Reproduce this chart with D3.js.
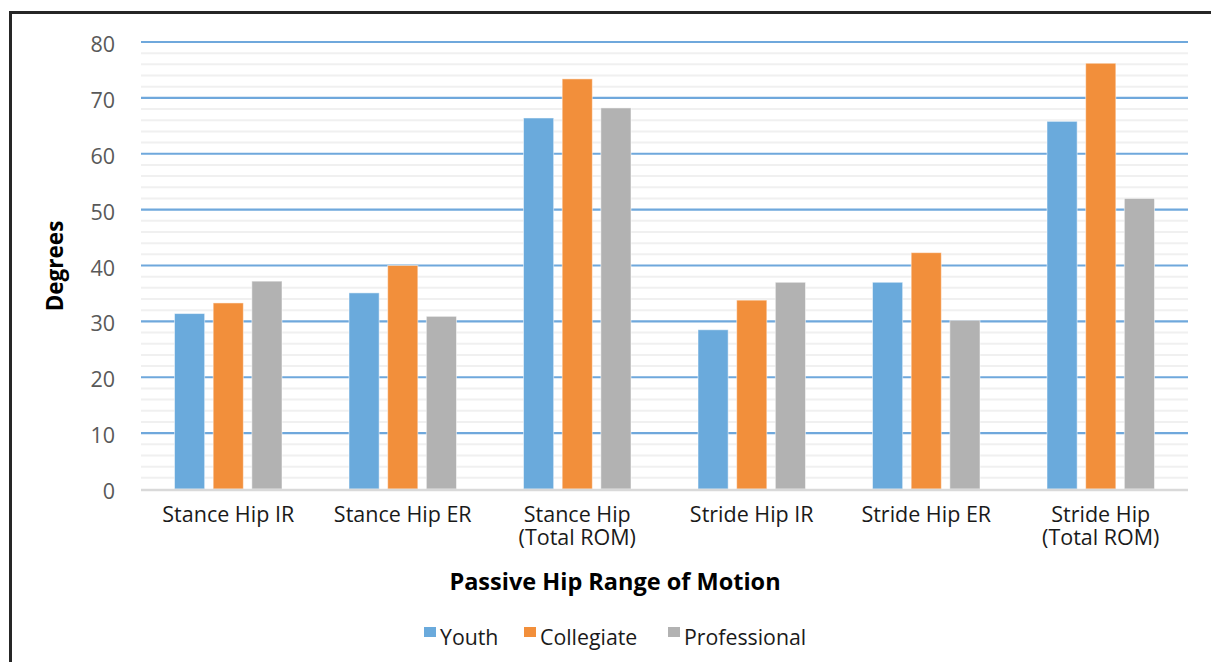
<!DOCTYPE html>
<html>
<head>
<meta charset="utf-8">
<script src="https://cdn.jsdelivr.net/npm/d3@7"></script>
<style>
  html, body { margin: 0; padding: 0; background: #fff; }
  svg { display: block; font-family: "Open Sans", sans-serif; }
</style>
</head>
<body>
<svg id="chart" width="1211" height="662"></svg>
<script>
// Passive hip range of motion (degrees) by playing level
const categories = [
  ["Stance Hip IR"],
  ["Stance Hip ER"],
  ["Stance Hip", "(Total ROM)"],
  ["Stride Hip IR"],
  ["Stride Hip ER"],
  ["Stride Hip", "(Total ROM)"]
];
const seriesNames = ["Youth", "Collegiate", "Professional"];
const youth        = [31.4, 35.1, 66.4, 28.5, 37.0, 65.8];
const collegiate   = [33.3, 40.0, 73.4, 33.8, 42.3, 76.2];
const professional = [37.2, 30.9, 68.2, 37.0, 30.2, 52.0];
const yTicks = [0, 10, 20, 30, 40, 50, 60, 70, 80];
const colors = ["#6aaadc", "#f28f3b", "#b2b2b2"];

const values = [youth, collegiate, professional];
const svg = d3.select("#chart");

// outer frame
svg.append("rect")
  .attr("x", 10.5).attr("y", 12.5)
  .attr("width", 1300).attr("height", 700)
  .attr("fill", "none").attr("stroke", "#262626").attr("stroke-width", 3);

const plot = { left: 141, right: 1188, top: 42, bottom: 489 };

const y = d3.scaleLinear().domain([0, 80]).range([plot.bottom, plot.top]);
const x0 = d3.scaleBand()
  .domain(d3.range(categories.length))
  .range([plot.left, plot.right]);
const pad = 33.5;
const x1 = d3.scaleBand()
  .domain(d3.range(seriesNames.length))
  .range([pad, x0.bandwidth() - pad])
  .paddingInner(0.22);

// minor gridlines every 2 degrees
const minor = d3.range(2, 80, 2).filter(v => v % 10 !== 0);
svg.append("g").selectAll("line").data(minor).join("line")
  .attr("x1", plot.left).attr("x2", plot.right)
  .attr("y1", d => y(d)).attr("y2", d => y(d))
  .attr("stroke", "#f0f0f0").attr("stroke-width", 2);

// major gridlines
svg.append("g").selectAll("line").data(yTicks.filter(v => v > 0)).join("line")
  .attr("x1", plot.left).attr("x2", plot.right)
  .attr("y1", d => y(d)).attr("y2", d => y(d))
  .attr("stroke", "#6fa8dc").attr("stroke-width", 2.2);

// y axis tick labels
const yAxis = d3.axisLeft(y).tickValues(yTicks).tickSize(0).tickPadding(0);
const yg = svg.append("g").attr("transform", `translate(${115},0)`).call(yAxis);
yg.select(".domain").remove();
yg.selectAll("text")
  .attr("dy", null).attr("y", 9.5)
  .attr("font-family", "Open Sans, sans-serif")
  .attr("font-size", 21.5).attr("fill", "#595959");

// bars
const groups = svg.append("g").selectAll("g").data(categories).join("g")
  .attr("transform", (d, i) => `translate(${x0(i)},0)`);
groups.selectAll("rect")
  .data((d, i) => values.map((s, k) => ({ k, v: s[i] })))
  .join("rect")
  .attr("x", d => x1(d.k))
  .attr("width", x1.bandwidth())
  .attr("y", d => y(d.v))
  .attr("height", d => y(0) - y(d.v))
  .attr("fill", d => colors[d.k])
  .attr("stroke", "#ffffff").attr("stroke-opacity", 0.5).attr("stroke-width", 1);

// baseline
svg.append("line")
  .attr("x1", plot.left).attr("x2", plot.right)
  .attr("y1", y(0) + 1).attr("y2", y(0) + 1)
  .attr("stroke", "#d9d9d9").attr("stroke-width", 2.5);

// category labels, one text element per line
const xAxis = d3.axisBottom(x0).tickSize(0).tickFormat(() => "");
const xg = svg.append("g").attr("transform", `translate(0,${plot.bottom})`).call(xAxis);
xg.select(".domain").remove();
xg.selectAll(".tick").each(function (d) {
  const tick = d3.select(this);
  categories[d].forEach((line, j) => {
    tick.append("text")
      .attr("text-anchor", "middle")
      .attr("x", 0).attr("y", 33 + j * 23)
      .attr("font-family", "Open Sans, sans-serif")
      .attr("font-size", 21.5).attr("fill", "#1a1a1a")
      .text(line);
  });
});

// axis titles
svg.append("text")
  .attr("transform", `translate(63,266) rotate(-90)`)
  .attr("text-anchor", "middle")
  .attr("font-size", 22.5).attr("font-weight", "bold").attr("fill", "#000")
  .text("Degrees");

svg.append("text")
  .attr("x", 615).attr("y", 590)
  .attr("text-anchor", "middle")
  .attr("font-size", 23.5).attr("font-weight", "bold").attr("fill", "#000")
  .text("Passive Hip Range of Motion");

// legend
const legendX = [424, 524, 668];
const legend = svg.append("g").selectAll("g").data(seriesNames).join("g")
  .attr("transform", (d, i) => `translate(${legendX[i]},0)`);
legend.append("rect")
  .attr("x", 0).attr("y", 627).attr("width", 12).attr("height", 10)
  .attr("fill", (d, i) => colors[i]);
legend.append("text")
  .attr("x", 16).attr("y", 645)
  .attr("font-size", 21.3).attr("fill", "#1a1a1a")
  .text(d => d);
</script>
</body>
</html>
